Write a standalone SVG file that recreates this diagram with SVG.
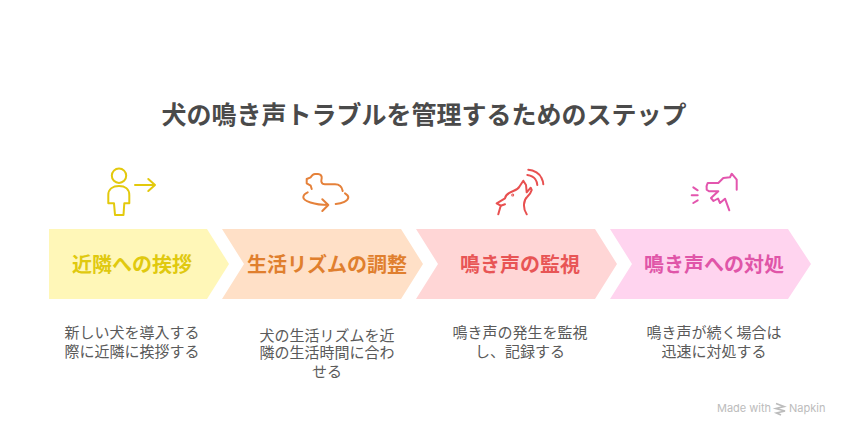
<svg xmlns="http://www.w3.org/2000/svg" width="846" height="432" viewBox="0 0 846 432">
<style>
text{font-family:"Liberation Sans","Noto Sans CJK JP",sans-serif;}
.t{font-size:20px;font-weight:700;text-anchor:middle;}
.d{font-size:15px;fill:#5a5a5a;text-anchor:middle;}
.i{fill:none;stroke-width:2;stroke-linecap:round;stroke-linejoin:round;}
.w{font-size:11px;font-family:"Inter","Liberation Sans",sans-serif;}
</style>
<rect width="846" height="432" fill="#fff"/>
<text x="424" y="124" font-size="25" font-weight="700" fill="#4a4a4a" text-anchor="middle">犬の鳴き声トラブルを管理するためのステップ</text>
<g id="connectors"></g>
<g id="node1">
<path d="M49 229H207L229 264L207 299H49Z" fill="#fff7b8"/>
<text class="t" x="132" y="271.500" fill="#e0c90f">近隣への挨拶</text>
<g class="i" stroke="#e3c90c">
<circle cx="119" cy="175.700" r="7.200"/>
<path d="M115 215H123.500L124.300 203.300H129.300V195C129.300 189 125 186 119 186C113 186 108.300 189 108.300 195V203.300H114Z"/>
<path d="M135 185H155M148.300 179L155 185L148.300 191"/>
</g>
<text class="d" x="132" y="338">新しい犬を導入する</text>
<text class="d" x="132" y="357">際に近隣に挨拶する</text>
</g>
<g id="node2">
<path d="M222 229H401L423 264L401 299H222L244 264Z" fill="#ffe0c7"/>
<text class="t" x="327" y="271.500" fill="#e07f2e">生活リズムの調整</text>
<g class="i" stroke="#e5813a">
<path d="M311.700 189L310.700 185.700L306.700 183.300V179L310.700 177.300C312 175 313 174 315 174H318C320.500 174 322 176 321.700 178C321.500 180 321 181 321.500 182C322 184 323 184.300 325 184.300H335C339 184.300 342 187 342.700 191"/>
<path d="M307.700 192.300C305 193.500 303.300 195.300 303.300 197.300C303.300 201 314 205 328.300 205M322.300 199.300L328.300 205L322.300 211"/>
<path d="M335.700 204C342 203.500 348.300 201 348.300 197.300C348.300 195.800 347 194.500 345 193.300"/>
</g>
<text class="d" x="327" y="341">犬の生活リズムを近</text>
<text class="d" x="327" y="358">隣の生活時間に合わ</text>
<text class="d" x="327" y="377">せる</text>
</g>
<g id="node3">
<path d="M416 229H595L617 264L595 299H416L438 264Z" fill="#ffd6d6"/>
<text class="t" x="520" y="271.500" fill="#e85555">鳴き声の監視</text>
<g class="i" stroke="#e85050">
<path d="M498.300 214.300L500.700 205.700L496.700 203.300L505 198.300C505.500 195 508 193 513.300 191C516 190 518.300 189 519.500 186.500L523.300 180.700L526 185L526.700 192.300L530.700 187.700L531.700 190C531 193 529 195 527.300 196.700C523.500 200 522.500 208 526.700 214.300"/>
<path d="M500.700 205.700L505 204.300"/>
<path d="M528.300 169.700C534 170 540 174 541.500 178C542.500 180 543.300 182 543.300 184.300M527.300 175C531 175.500 534 177 535.500 179.500C536.500 181 537.300 183 537.300 185"/>
<circle cx="512.700" cy="195" r="0.500"/>
</g>
<text class="d" x="520" y="338">鳴き声の発生を監視</text>
<text class="d" x="520" y="357">し、記録する</text>
</g>
<g id="node4">
<path d="M610 229H788L811 264L788 299H610L632 264Z" fill="#ffd4ef"/>
<text class="t" x="714" y="271.500" fill="#e055a8">鳴き声への対処</text>
<g class="i" stroke="#e356ae">
<path d="M736.700 189.700V179.700L731.700 173.700L730 177.300L723.300 178L718.300 183H707.700C706.500 185 706.300 188 706.700 189.700L709 191.300H718.300L711 198L713.500 201L718 198.500L720 203L725 198.700L729.300 210.300"/>
<path d="M693.300 187.300L697.700 190.300M691.700 195.300H697.700M693.300 203L697.700 200.300"/>
</g>
<text class="d" x="714" y="338">鳴き声が続く場合は</text>
<text class="d" x="714" y="357">迅速に対処する</text>
</g>
<g id="watermark" fill="#bcbcbc">
<text class="w" x="717" y="412">Made with</text>
<path d="M776 403.500L784 406.500L776 408.500L785 411L776.500 413L781 415" fill="none" stroke="#bcbcbc" stroke-width="1.700"/>
<text class="w" x="789" y="412">Napkin</text>
</g>
</svg>
